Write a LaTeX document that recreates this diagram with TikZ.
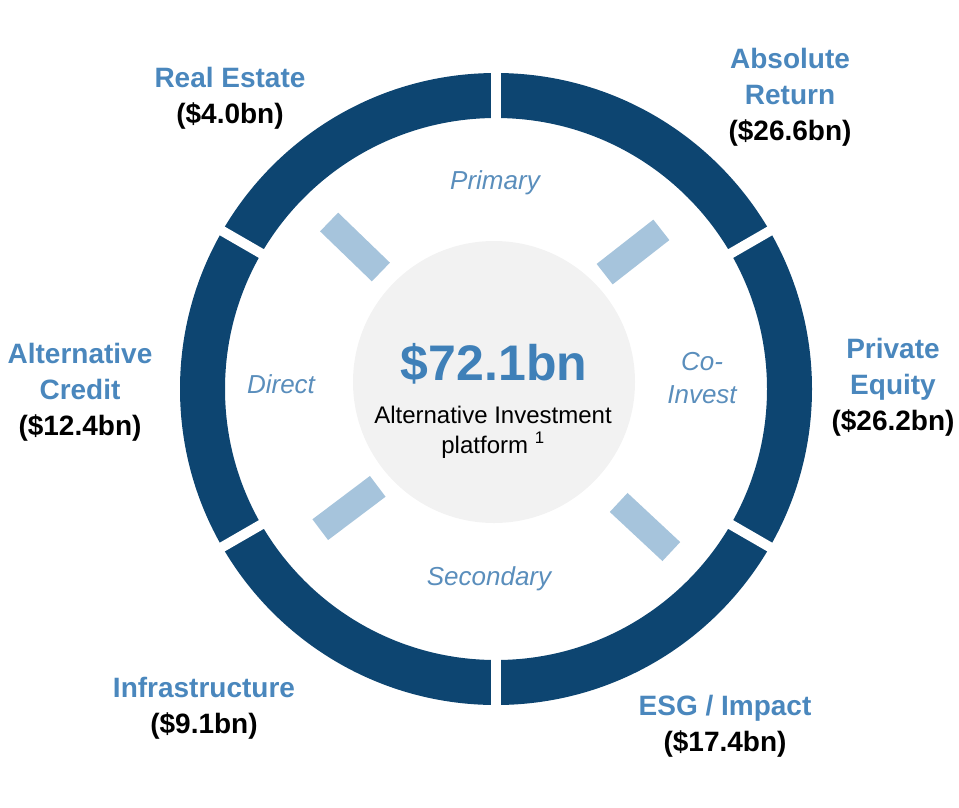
\documentclass[tikz,border=0pt]{standalone}
\usepackage{fontspec}
\setmainfont{Liberation Sans}
\definecolor{ringblue}{HTML}{0D4571}
\definecolor{barblue}{HTML}{A6C4DC}
\definecolor{labelblue}{HTML}{4A87BD}
\definecolor{innerblue}{HTML}{5A8EBC}
\definecolor{totalblue}{HTML}{3F80B8}
\definecolor{hubgray}{HTML}{F2F2F2}
\begin{document}
\begin{tikzpicture}[x=1pt,y=-1pt,
        seglabel/.style={font=\bfseries\fontsize{28}{36}\selectfont, align=center, anchor=base, inner sep=0pt},
        inlabel/.style={font=\itshape\fontsize{26}{33}\selectfont, text=innerblue, align=center, anchor=base, inner sep=0pt},
        bar/.style={fill=barblue, minimum width=72pt, minimum height=26pt, inner sep=0pt},
        hub/.style={circle, fill=hubgray, minimum size=282pt, inner sep=0pt}]
    \useasboundingbox (0,0) rectangle (959,807);
    \coordinate (c) at (496,389);
    \fill[ringblue, even odd rule] (c) circle (316pt) circle (271pt);
    \foreach \a in {30,90,...,330}
        \draw[white, line width=10pt] (c) ++(\a:260pt) -- ++(\a:70pt);
    \foreach \n/\x/\y/\r in {tl/355/247/-44, tr/633/252/38, bl/349/508/37, br/645/527/-43}
        \node[bar, rotate=\r] (bar\n) at (\x,\y) {};
    \node[hub] (hub) at (494,382) {};
    \node[font=\bfseries\fontsize{50}{50}\selectfont, text=totalblue, anchor=base] (total) at (494,380) {\$72.1bn};
    \node[font=\fontsize{24}{30}\selectfont, align=center, anchor=base] (platform) at (493,453) {Alternative Investment\\platform \textsuperscript{1}};
    \node[inlabel] (primary) at (495,189) {Primary};
    \node[inlabel] (direct) at (281,393) {Direct};
    \node[inlabel] (coinvest) at (702,403) {Co-\\Invest};
    \node[inlabel] (secondary) at (489,585) {Secondary};
    \node[seglabel] (realestate) at (230,123) {\textcolor{labelblue}{Real Estate}\\(\$4.0bn)};
    \node[seglabel] (absolute) at (790,140) {\textcolor{labelblue}{Absolute}\\\textcolor{labelblue}{Return}\\(\$26.6bn)};
    \node[seglabel] (private) at (893,430) {\textcolor{labelblue}{Private}\\\textcolor{labelblue}{Equity}\\(\$26.2bn)};
    \node[seglabel] (esg) at (725,751) {\textcolor{labelblue}{ESG / Impact}\\(\$17.4bn)};
    \node[seglabel] (infra) at (204,733) {\textcolor{labelblue}{Infrastructure}\\(\$9.1bn)};
    \node[seglabel] (altcredit) at (80,435) {\textcolor{labelblue}{Alternative}\\\textcolor{labelblue}{Credit}\\(\$12.4bn)};
\end{tikzpicture}
\end{document}
